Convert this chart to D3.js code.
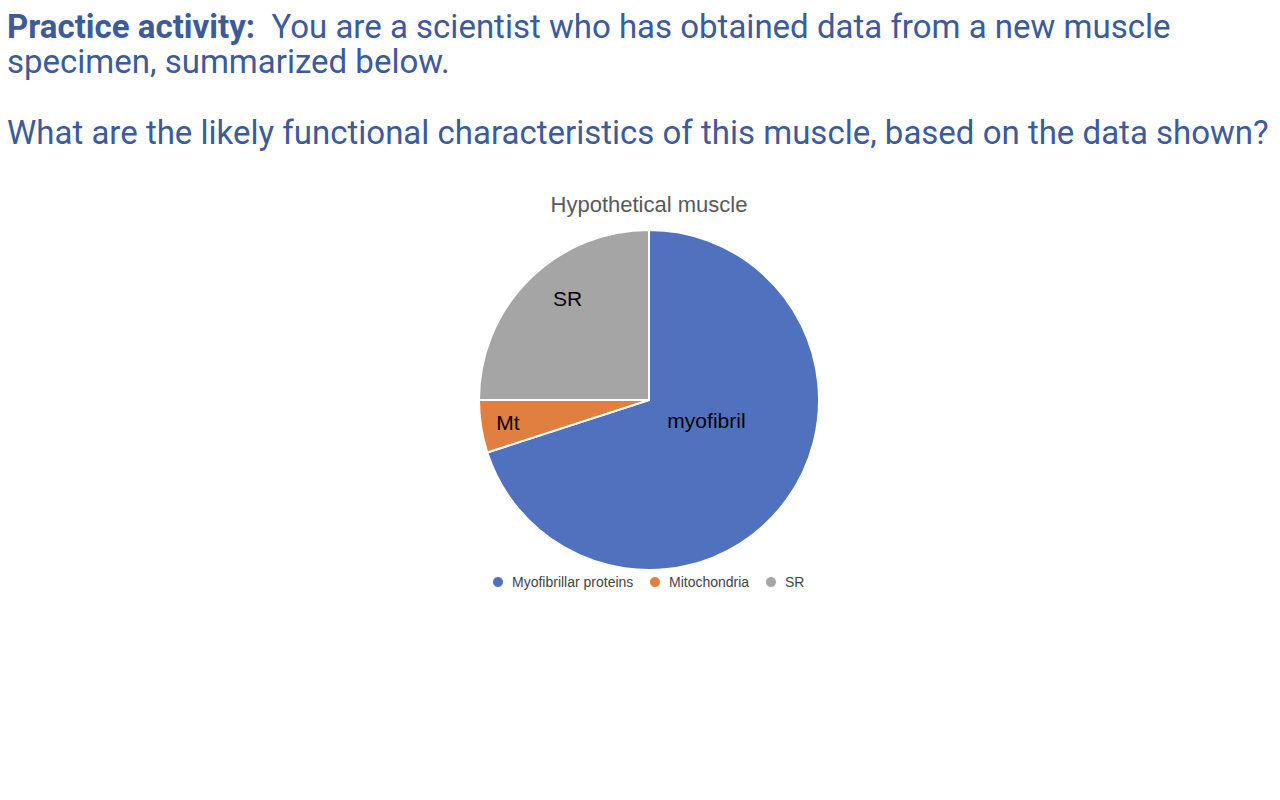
<!DOCTYPE html>
<html>
<head>
<meta charset="utf-8">
<script src="https://cdn.jsdelivr.net/npm/d3@7"></script>
<style>
  body { margin: 0; background: #fff; }
  .headline { font-family: Roboto, sans-serif; fill: #3d5a99; font-size: 33px; }
</style>
</head>
<body>
<svg id="pie" width="1280" height="800"></svg>
<script>
// Data
const categories = ["Myofibrillar proteins", "Mitochondria", "SR"];
const sliceLabels = ["myofibril", "Mt", "SR"];
const values = [70, 5, 25];
const colors = ["#4f71be", "#e07f3f", "#a5a5a5"];
// where the label sits: fraction of radius, fraction along the slice angle
const labelRadius = [0.36, 0.84, 0.765];
const labelAngle = [0.437, 0.5, 0.57];

const svg = d3.select("#pie");

// Headline text
const head = svg.append("text").attr("class", "headline");
head.append("tspan").attr("x", 7).attr("y", 38)
  .attr("font-weight", "bold").text("Practice activity:");
head.append("tspan").text("\u00a0 You are a scientist who has obtained data from a new muscle");
svg.append("text").attr("class", "headline").attr("x", 7).attr("y", 73)
  .text("specimen, summarized below.");
svg.append("text").attr("class", "headline").attr("x", 7).attr("y", 144)
  .text("What are the likely functional characteristics of this muscle, based on the data shown?");

// Pie
const cx = 649, cy = 400, radius = 170;
const g = svg.append("g").attr("transform", `translate(${cx},${cy})`);

const pie = d3.pie().sort(null).value((d) => d);
const arcs = pie(values);
const arc = d3.arc().innerRadius(0).outerRadius(radius);

g.selectAll("path")
  .data(arcs)
  .enter()
  .append("path")
  .attr("d", arc)
  .attr("fill", (d, i) => colors[i])
  .attr("stroke", "#fff")
  .attr("stroke-width", 2);

g.selectAll("text.slice")
  .data(arcs)
  .enter()
  .append("text")
  .attr("class", "slice")
  .attr("transform", (d, i) => {
    const r = radius * labelRadius[i];
    const a = d.startAngle + (d.endAngle - d.startAngle) * labelAngle[i];
    return `translate(${r * Math.sin(a)},${-r * Math.cos(a)})`;
  })
  .attr("text-anchor", "middle")
  .attr("dy", "0.35em")
  .attr("font-family", "Liberation Sans, Arial, sans-serif")
  .attr("font-size", 21)
  .attr("fill", "#000")
  .text((d, i) => sliceLabels[i]);

// Title
svg.append("text")
  .attr("x", cx)
  .attr("y", 212)
  .attr("text-anchor", "middle")
  .attr("font-family", "Liberation Sans, Arial, sans-serif")
  .attr("font-size", 22)
  .attr("fill", "#595959")
  .text("Hypothetical muscle");

// Legend
const legendX = [498, 655, 771];
const legend = svg.append("g").attr("transform", "translate(0,582)");
const items = legend.selectAll("g")
  .data(categories)
  .enter()
  .append("g")
  .attr("transform", (d, i) => `translate(${legendX[i]},0)`);
items.append("circle")
  .attr("r", 5.5)
  .attr("fill", (d, i) => colors[i])
  .attr("stroke", "#fff")
  .attr("stroke-width", 1);
items.append("text")
  .attr("x", 14)
  .attr("dy", "0.35em")
  .attr("font-family", "Liberation Sans, Arial, sans-serif")
  .attr("font-size", 14)
  .attr("fill", "#444")
  .text((d) => d);
</script>
</body>
</html>
